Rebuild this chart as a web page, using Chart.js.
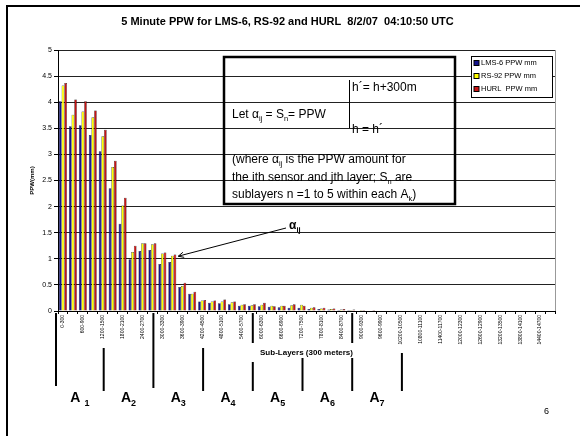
<!DOCTYPE html>
<html>
<head>
<meta charset="utf-8">
<script src="https://cdn.jsdelivr.net/npm/chart.js@4"></script>
<style>
  html, body { margin: 0; padding: 0; background: #fff; }
  #wrap { width: 580px; height: 436px; position: relative; }
</style>
</head>
<body>
<div id="wrap"><canvas id="chart"></canvas></div>
<script>
/* Chart data */

const chartTitle = "5 Minute PPW for LMS-6, RS-92 and HURL  8/2/07  04:10:50 UTC";

const subLayers = [
  "0-300", "300-600", "600-900", "900-1200", "1200-1500",
  "1500-1800", "1800-2100", "2100-2400", "2400-2700", "2700-3000",
  "3000-3300", "3300-3600", "3600-3900", "3900-4200", "4200-4500",
  "4500-4800", "4800-5100", "5100-5400", "5400-5700", "5700-6000",
  "6000-6300", "6300-6600", "6600-6900", "6900-7200", "7200-7500",
  "7500-7800", "7800-8100", "8100-8400", "8400-8700", "8700-9000",
  "9000-9300", "9300-9600", "9600-9900", "9900-10200", "10200-10500",
  "10500-10800", "10800-11100", "11100-11400", "11400-11700", "11700-12000",
  "12000-12300", "12300-12600", "12600-12900", "12900-13200", "13200-13500",
  "13500-13800", "13800-14100", "14100-14400", "14400-14700", "14700-15000"
];

const lmsPpw = [
  4.02, 3.54, 3.56, 3.37, 3.06, 2.35, 1.67, 0.99, 1.15, 1.17,
  0.90, 0.94, 0.46, 0.33, 0.18, 0.16, 0.15, 0.13, 0.10, 0.10,
  0.09, 0.08, 0.07, 0.06, 0.06, 0.04, 0.04, 0.03, 0.02, 0.02,
  0.01, 0.01, 0.01, 0.01, 0.01, 0.01, 0, 0, 0, 0,
  0, 0, 0, 0, 0, 0, 0, 0, 0, 0
];

const rs92Ppw = [
  4.32, 3.76, 3.82, 3.71, 3.35, 2.76, 2.02, 1.13, 1.30, 1.28,
  1.10, 1.06, 0.48, 0.33, 0.20, 0.18, 0.18, 0.17, 0.12, 0.11,
  0.12, 0.10, 0.10, 0.11, 0.12, 0.06, 0.05, 0.04, 0.03, 0.02,
  0.02, 0.01, 0.01, 0.01, 0.01, 0, 0, 0, 0, 0,
  0, 0, 0, 0, 0, 0, 0, 0, 0, 0
];

const hurlPpw = [
  4.37, 4.05, 4.02, 3.84, 3.47, 2.88, 2.17, 1.25, 1.30, 1.30,
  1.12, 1.08, 0.54, 0.37, 0.21, 0.20, 0.22, 0.18, 0.13, 0.13,
  0.16, 0.09, 0.10, 0.13, 0.10, 0.07, 0.06, 0.05, 0.04, 0.03,
  0.02, 0.02, 0.01, 0.01, 0.01, 0.01, 0.01, 0.01, 0, 0,
  0, 0, 0, 0, 0, 0, 0, 0, 0, 0
];

const seriesNames = ["LMS-6 PPW mm", "RS-92 PPW mm", "HURL  PPW mm"];
const seriesColors = ["#14148c", "#ffff00", "#c81414"];

const yMin = 0;
const yMax = 5;
const yStep = 0.5;

const layerGroups = ["1", "2", "3", "4", "5", "6", "7"];

/* Helpers */

function drawRich(ctx, x, y, parts, size, weight) {
  parts.forEach(part => {
    const isSub = part[1] === "sub";
    ctx.font = `${weight} ${isSub ? size * 0.62 : size}px Arial`;
    ctx.fillText(part[0], x, isSub ? y + size * 0.28 : y);
    x += ctx.measureText(part[0]).width;
  });
  return x;
}

function line(ctx, x1, y1, x2, y2) {
  ctx.beginPath();
  ctx.moveTo(x1, y1);
  ctx.lineTo(x2, y2);
  ctx.stroke();
}

/* Slide decorations: frame, text box, legend, layer brackets */

const slideDecor = {
  id: "slideDecor",
  afterDraw(chart) {
    const ctx = chart.ctx;
    const area = chart.chartArea;
    const xs = chart.scales.x;
    const ys = chart.scales.y;
    ctx.save();
    ctx.fillStyle = "#000";
    ctx.strokeStyle = "#000";
    ctx.textBaseline = "alphabetic";

    // slide frame
    ctx.lineWidth = 2;
    ctx.beginPath();
    ctx.moveTo(7, 440);
    ctx.lineTo(7, 6);
    ctx.lineTo(584, 6);
    ctx.stroke();

    // plot right border
    ctx.strokeStyle = "#999";
    ctx.lineWidth = 1;
    line(ctx, area.right + 0.5, area.top, area.right + 0.5, area.bottom);
    ctx.strokeStyle = "#000";

    // definition box
    ctx.lineWidth = 2.5;
    ctx.strokeRect(224, 57, 231, 147);

    drawRich(ctx, 232, 118, [["Let α"], ["ij", "sub"], [" = S"], ["n", "sub"], ["= PPW"]], 12, "normal");
    ctx.lineWidth = 1;
    line(ctx, 349.5, 80, 349.5, 128);
    drawRich(ctx, 352, 91, [["h\u00b4= h+300m"]], 12, "normal");
    drawRich(ctx, 352, 133, [["h = h\u00b4"]], 12, "normal");
    drawRich(ctx, 232, 163, [["(where α"], ["ij", "sub"], [" is the PPW amount for"]], 12, "normal");
    drawRich(ctx, 232, 181, [["the ith sensor and jth layer; S"], ["n", "sub"], [" are"]], 12, "normal");
    drawRich(ctx, 232, 198, [["sublayers n =1 to 5 within each A"], ["k", "sub"], [")"]], 12, "normal");

    // arrow to the alpha_ij bars
    const tipX = xs.getPixelForValue(11) + 6;
    const tipY = ys.getPixelForValue(1.05);
    line(ctx, 286, 228, tipX, tipY);
    const ang = Math.atan2(228 - tipY, 286 - tipX);
    line(ctx, tipX, tipY, tipX + 6 * Math.cos(ang - 0.45), tipY + 6 * Math.sin(ang - 0.45));
    line(ctx, tipX, tipY, tipX + 6 * Math.cos(ang + 0.45), tipY + 6 * Math.sin(ang + 0.45));
    drawRich(ctx, 289, 229, [["α"], ["ij", "sub"]], 12, "bold");

    // legend
    ctx.fillStyle = "#fff";
    ctx.fillRect(471, 56, 81, 41);
    ctx.strokeRect(471.5, 56.5, 81, 41);
    ctx.font = "7.5px Arial";
    ctx.textBaseline = "middle";
    chart.data.datasets.forEach((ds, i) => {
      const cy = 63 + i * 13;
      ctx.fillStyle = ds.backgroundColor;
      ctx.fillRect(474, cy - 2.5, 5, 5);
      ctx.strokeRect(474, cy - 2.5, 5, 5);
      ctx.fillStyle = "#000";
      ctx.fillText(ds.label, 481, cy);
    });
    ctx.textBaseline = "alphabetic";

    // layer bracket lines below the axis
    const edge = k => xs.getPixelForValue(k * 5 - 0.5) - 4;
    const b = area.bottom;
    ctx.lineWidth = 2;
    const bracketSpans = [
      [[b + 2, b + 75]],
      [[b + 37, b + 80]],
      [[b + 2, b + 77]],
      [[b + 37, b + 80]],
      [[b + 2, b + 32], [b + 51, b + 80]],
      [[b + 47, b + 80]],
      [[b + 2, b + 32], [b + 47, b + 80]],
      [[b + 42, b + 80]]
    ];
    bracketSpans.forEach((spans, k) => {
      const px = k === 0 ? area.left - 2 : edge(k);
      spans.forEach(s => line(ctx, px, s[0], px, s[1]));
    });

    layerGroups.forEach((g, k) => {
      const cx = (k === 0 ? area.left - 2 + edge(1) : edge(k) + edge(k + 1)) / 2;
      ctx.font = "bold 14px Arial";
      const aw = ctx.measureText("A").width;
      const gap = k === 0 ? 4 : 0;
      ctx.font = "bold 9px Arial";
      const sw = ctx.measureText(g).width;
      const left = cx - (aw + gap + sw) / 2;
      ctx.font = "bold 14px Arial";
      ctx.fillText("A", left, 402);
      ctx.font = "bold 9px Arial";
      ctx.fillText(g, left + aw + gap, 406);
    });

    // page number
    ctx.font = "9px Arial";
    ctx.fillText("6", 544, 414);

    ctx.restore();
  }
};

/* Chart */

const chartCanvas = document.querySelector("#chart");

const ppwChart = new Chart(chartCanvas, {
  type: "bar",
  data: {
    labels: subLayers,
    datasets: [lmsPpw, rs92Ppw, hurlPpw].map((values, i) => ({
      label: seriesNames[i],
      data: values,
      backgroundColor: seriesColors[i],
      borderColor: "#000",
      borderWidth: 0.5,
      barPercentage: 1,
      categoryPercentage: 0.8
    }))
  },
  options: {
    responsive: true,
    maintainAspectRatio: false,
    animation: false,
    events: [],
    layout: {
      padding: { left: 20, right: 25, top: 0, bottom: 0 }
    },
    plugins: {
      legend: { display: false },
      tooltip: { enabled: false },
      title: {
        display: true,
        text: chartTitle,
        color: "#000",
        font: { family: "Arial", size: 11, weight: "bold", lineHeight: 1.2 },
        padding: { top: 15.4, bottom: 21.4 }
      }
    },
    scales: {
      x: {
        afterFit: scale => { scale.height = 125; },
        border: { display: true, color: "#000", width: 1 },
        grid: {
          drawOnChartArea: false,
          drawTicks: true,
          tickLength: 3,
          tickColor: "#000"
        },
        ticks: {
          autoSkip: false,
          maxRotation: 90,
          minRotation: 90,
          padding: 1,
          color: "#000",
          font: { family: "Arial", size: 5 },
          callback: function (value, index) {
            return index % 2 === 0 ? this.getLabelForValue(value) : "";
          }
        },
        title: {
          display: true,
          text: "Sub-Layers (300 meters)",
          color: "#000",
          font: { family: "Arial", size: 8, weight: "bold", lineHeight: 1.2 },
          padding: { top: 4, bottom: 78 }
        }
      },
      y: {
        min: yMin,
        max: yMax,
        afterFit: scale => { scale.width = 38; },
        border: { display: true, color: "#000", width: 1 },
        grid: {
          color: "#222",
          lineWidth: 1,
          tickLength: 4,
          tickColor: "#000"
        },
        ticks: {
          stepSize: yStep,
          padding: 2,
          color: "#000",
          font: { family: "Arial", size: 7 },
          callback: value => String(Number(value))
        },
        title: {
          display: true,
          text: "PPW(mm)",
          color: "#000",
          font: { family: "Arial", size: 6, weight: "bold", lineHeight: 1.2 },
          padding: { top: 9, bottom: 0 }
        }
      }
    }
  },
  plugins: [slideDecor]
});
</script>
</body>
</html>
